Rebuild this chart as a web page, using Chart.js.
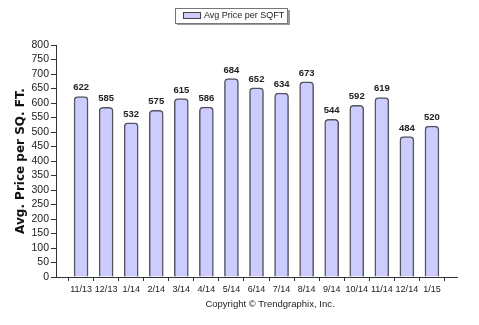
<!DOCTYPE html>
<html>
<head>
<meta charset="utf-8">
<script src="https://cdn.jsdelivr.net/npm/chart.js@4.4.1/dist/chart.umd.min.js"></script>
<style>
  html, body { margin: 0; padding: 0; background: #fff; }
  #wrap { position: relative; width: 479px; height: 325px; }
</style>
</head>
<body>
<div id="wrap"><canvas id="chart" width="479" height="325"></canvas></div>
<script>
// --- Data ---
const MONTHS = ['11/13', '12/13', '1/14', '2/14', '3/14', '4/14', '5/14', '6/14',
  '7/14', '8/14', '9/14', '10/14', '11/14', '12/14', '1/15'];
const PRICES = [622, 585, 532, 575, 615, 586, 684, 652, 634, 673, 544, 592, 619, 484, 520];
const SERIES_NAME = 'Avg Price per SQFT';
const Y_TITLE = 'Avg. Price per SQ. FT.';
const COPYRIGHT = 'Copyright \u00A9 Trendgraphix, Inc.';

// empty slot at each end so the bars sit one step in from the axis ends
const labels = [''].concat(MONTHS, ['']);
const values = [null].concat(PRICES, [null]);

const FONT = "'Liberation Sans', Arial, sans-serif";
const TEXT = '#222';
const AXIS = '#333';

// --- Labels above bars, legend box, copyright ---
const extras = {
  id: 'extras',
  afterDatasetsDraw(chart) {
    const ctx = chart.ctx;
    const meta = chart.getDatasetMeta(0);
    ctx.save();
    ctx.font = 'bold 9.5px ' + FONT;
    ctx.fillStyle = TEXT;
    ctx.textAlign = 'center';
    ctx.textBaseline = 'bottom';
    meta.data.forEach((bar, i) => {
      if (values[i] == null) return;
      ctx.fillText(values[i], bar.x, bar.y - 4);
    });
    ctx.restore();
  },
  afterDraw(chart) {
    const ctx = chart.ctx;
    ctx.save();
    // legend frame with shadow
    ctx.fillStyle = '#999';
    ctx.fillRect(177, 10, 113, 15);
    ctx.fillStyle = '#fff';
    ctx.fillRect(175, 8, 112, 15);
    ctx.strokeStyle = '#777';
    ctx.lineWidth = 1;
    ctx.strokeRect(175.5, 8.5, 112, 15);
    ctx.fillStyle = '#ccccff';
    ctx.fillRect(183, 13, 17, 5);
    ctx.strokeStyle = '#444';
    ctx.strokeRect(183.5, 12.5, 17, 6);
    ctx.fillStyle = TEXT;
    ctx.font = '9px ' + FONT;
    ctx.textBaseline = 'middle';
    ctx.fillText(SERIES_NAME, 204, 16);
    // copyright
    ctx.font = '9.5px ' + FONT;
    ctx.textAlign = 'center';
    ctx.fillText(COPYRIGHT, 270, 304);
    ctx.restore();
  },
};

new Chart(document.getElementById('chart'), {
  type: 'bar',
  data: {
    labels: labels,
    datasets: [{
      label: SERIES_NAME,
      data: values,
      backgroundColor: '#ccccff',
      borderColor: '#555560',
      borderWidth: 1.5,
      borderSkipped: 'bottom',
      borderRadius: { topLeft: 4, topRight: 4 },
      barThickness: 14,
    }],
  },
  options: {
    responsive: false,
    animation: false,
    layout: { padding: { top: 45, right: 22, bottom: 0, left: 0 } },
    plugins: {
      legend: { display: false },
      tooltip: { enabled: false },
    },
    scales: {
      x: {
        offset: false,
        afterFit: (s) => { s.height = 48; },
        grid: {
          drawOnChartArea: false,
          drawTicks: true,
          tickLength: 4,
          color: AXIS,
        },
        border: { color: AXIS, width: 1 },
        ticks: {
          color: TEXT,
          font: { family: FONT, size: 9 },
          maxRotation: 0,
          autoSkip: false,
          padding: 3,
        },
      },
      y: {
        min: 0,
        max: 800,
        afterFit: (s) => { s.width = 56; },
        grid: {
          drawOnChartArea: false,
          tickLength: 5,
          color: AXIS,
        },
        border: { color: AXIS, width: 1 },
        ticks: {
          stepSize: 50,
          autoSkip: false,
          color: TEXT,
          font: { family: FONT, size: 10.5 },
          padding: 2,
        },
        title: {
          display: true,
          text: Y_TITLE,
          color: '#111',
          font: { family: "'DejaVu Sans', Verdana, sans-serif", size: 12, weight: 'bold' },
          padding: { top: 14, bottom: 0 },
        },
      },
    },
  },
  plugins: [extras],
});
</script>
</body>
</html>
